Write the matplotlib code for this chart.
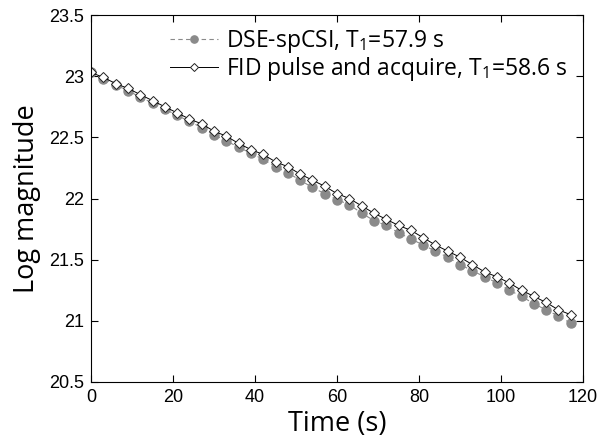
import matplotlib
matplotlib.use("Agg")
import matplotlib.pyplot as plt

time_s = list(range(0, 120, 3))

fid = [23.03, 22.99, 22.94, 22.90, 22.85, 22.80, 22.75, 22.70, 22.65, 22.61,
       22.55, 22.51, 22.45, 22.40, 22.36, 22.30, 22.26, 22.20, 22.15, 22.10,
       22.04, 22.00, 21.94, 21.88, 21.83, 21.78, 21.74, 21.68, 21.62, 21.57,
       21.52, 21.46, 21.40, 21.36, 21.31, 21.25, 21.20, 21.15, 21.09, 21.05]

dse = [23.03, 22.98, 22.93, 22.88, 22.83, 22.78, 22.73, 22.68, 22.63, 22.58,
       22.52, 22.47, 22.42, 22.37, 22.32, 22.26, 22.21, 22.15, 22.09, 22.04,
       21.99, 21.95, 21.88, 21.82, 21.78, 21.72, 21.67, 21.62, 21.57, 21.52,
       21.46, 21.41, 21.36, 21.31, 21.25, 21.20, 21.14, 21.09, 21.04, 20.98]

xticks = [0, 20, 40, 60, 80, 100, 120]
yticks = [20.5, 21, 21.5, 22, 22.5, 23, 23.5]
ytick_labels = ["20.5", "21", "21.5", "22", "22.5", "23", "23.5"]

W, H = 607, 442
fig = plt.figure(figsize=(W/100, H/100), dpi=100)
ax = fig.add_axes([91/W, 1 - 382/H, 492/W, 367/H])

ax.plot(time_s, dse, '--', color='#8a8a8a', lw=0.8, marker='o', ms=6.5,
        mfc='#8a8a8a', mec='#8a8a8a', dashes=(4, 3),
        label=r"DSE-spCSI, T$_\mathregular{1}$=57.9 s")
ax.plot(time_s, fid, '-', color='black', lw=0.7, marker='D', ms=4.8,
        mfc='white', mec='#222222', mew=0.7,
        label=r"FID pulse and acquire, T$_\mathregular{1}$=58.6 s")

ax.set_xlim(0, 120)
ax.set_ylim(20.5, 23.5)
ax.set_xticks(xticks)
ax.set_yticks(yticks)
ax.set_yticklabels(ytick_labels)
ax.tick_params(direction='in', top=True, right=True, length=5, width=0.8,
               labelsize=13, pad=5)
for lab in ax.get_xticklabels() + ax.get_yticklabels():
    lab.set_family('Liberation Sans')
for s in ax.spines.values():
    s.set_linewidth(0.8)

ax.set_xlabel("Time (s)", family='Open Sans', fontsize=19.5, labelpad=3)
ax.set_ylabel("Log magnitude", family='Open Sans', fontsize=19.5, labelpad=6)

ax.legend(loc='upper left', frameon=False,
          prop={'family': 'Open Sans', 'size': 16.5},
          handlelength=2.1, handletextpad=0.35, borderpad=0, borderaxespad=0,
          labelspacing=0.0, markerscale=0.8,
          bbox_to_anchor=(170/W, 1 - 28/H),
          bbox_transform=fig.transFigure)

fig.savefig("out.png", dpi=100)
